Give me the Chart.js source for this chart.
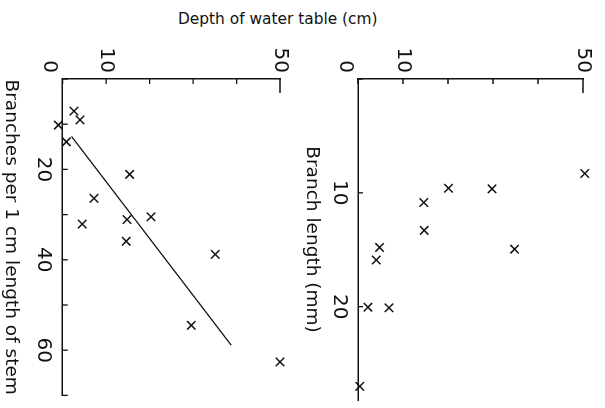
<!DOCTYPE html>
<html>
<head>
<meta charset="utf-8">
<script src="https://cdn.jsdelivr.net/npm/chart.js@4.4.0/dist/chart.umd.min.js"></script>
<style>
  html, body { margin: 0; padding: 0; background: #fff; overflow: hidden; }
  body { width: 605px; height: 408px; position: relative; font-family: "DejaVu Sans", sans-serif; }
  #depthTitle { position: absolute; left: 178px; top: 12px; font-size: 15.4px; line-height: 1; color: #111; white-space: nowrap; }
  /* figure is laid out upright, then turned a quarter turn */
  #fig { position: absolute; left: 605px; top: 0; width: 408px; height: 605px; transform-origin: 0 0; transform: rotate(90deg); }
  #fig canvas { position: absolute; left: 0; }
  #lengthChart { top: 0; }
  #branchChart { top: 306px; }
</style>
</head>
<body>
<div id="depthTitle">Depth of water table (cm)</div>
<div id="fig">
  <canvas id="lengthChart" width="408" height="306"></canvas>
  <canvas id="branchChart" width="408" height="299"></canvas>
</div>
<script>
// branch length (mm) vs depth of water table (cm)
const lengthDepth = [50.4, 20.1, 29.8, 14.6, 14.7, 4.8, 34.8, 4.05, 2.2, 6.9, -1.7, 0.4];
const branchLength = [8.3, 9.6, 9.65, 10.85, 13.3, 14.8, 14.95, 15.9, 20.05, 20.1, 21.0, 27.0];

// branches per 1 cm of stem vs depth of water table (cm)
const branchDepth = [2.6, 4.0, -1.0, 0.85, 15.4, 7.2, 4.5, 14.8, 20.3, 14.6, 35.1, 29.6, 50.0];
const branchesPerCm = [7.1, 9.05, 10.2, 13.9, 21.1, 26.4, 32.1, 31.1, 30.5, 35.9, 38.8, 54.5, 62.6];

// fitted regression line
const fitBranches = [12.7, 58.9];
const fitDepth = [2.0, 38.8];

// tick marks and which of them carry a label
const depthTicks = [0, 10, 20, 30, 40, 50];
const depthLabels = [0, 10, 50];
const lengthTicks = [0, 10, 20];
const lengthLabels = [10, 20];
const branchTicks = [0, 10, 20, 30, 40, 50, 60, 70];
const branchLabels = [20, 40, 60];

const ink = '#111';
const tickFont = { family: 'DejaVu Sans', size: 20, lineHeight: 1.3 };
const titleFont = { family: 'DejaVu Sans', size: 18.5 };

// short tick marks pointing into the plot
const innerTicks = {
    id: 'innerTicks',
    afterDraw(chart) {
        const { ctx, chartArea: a, scales: { x, y } } = chart;
        ctx.save();
        ctx.strokeStyle = ink;
        ctx.lineWidth = 1.3;
        ctx.beginPath();
        x.ticks.forEach(t => {
            const px = x.getPixelForValue(t.value);
            ctx.moveTo(px, a.bottom);
            ctx.lineTo(px, a.bottom - 5);
        });
        y.ticks.forEach(t => {
            const py = y.getPixelForValue(t.value);
            const len = t.value === 50 ? 14 : 5;
            ctx.moveTo(a.left, py);
            ctx.lineTo(a.left + len, py);
        });
        ctx.stroke();
        ctx.restore();
    }
};

function toPoints(xs, ys) {
    return xs.map((v, i) => ({ x: v, y: ys[i] }));
}

function pointSet(xs, ys) {
    return {
        data: toPoints(xs, ys),
        pointStyle: 'crossRot',
        pointRadius: 6,
        pointBorderWidth: 1.5,
        borderColor: ink,
        backgroundColor: ink,
        showLine: false,
        clip: false
    };
}

function depthAxis() {
    return {
        min: 0,
        max: 50,
        afterBuildTicks: s => { s.ticks = depthTicks.map(v => ({ value: v })); },
        afterFit: s => { s.width = 79; },
        grid: { display: false, drawTicks: false },
        border: { display: true, color: ink, width: 1.5 },
        ticks: {
            color: ink,
            font: tickFont,
            padding: 6,
            autoSkip: false,
            callback: v => v === 0 ? ['', '0'] : (depthLabels.includes(v) ? String(v) : '')
        }
    };
}

function sideAxis(max, tickList, labelList, height, title, titlePad) {
    return {
        type: 'linear',
        min: 0,
        max: max,
        afterBuildTicks: s => { s.ticks = tickList.map(v => ({ value: v })); },
        afterFit: s => { s.height = height; },
        grid: { display: false, drawTicks: false },
        border: { display: true, color: ink, width: 1.5 },
        ticks: {
            color: ink,
            font: tickFont,
            padding: 6,
            autoSkip: false,
            maxRotation: 0,
            callback: v => labelList.includes(v) ? String(v) : ''
        },
        title: {
            display: true,
            text: title,
            color: ink,
            font: titleFont,
            padding: { top: 0, bottom: titlePad }
        }
    };
}

// Branch length panel
new Chart(document.getElementById('lengthChart'), {
    type: 'scatter',
    data: {
        datasets: [pointSet(branchLength, lengthDepth)]
    },
    options: {
        responsive: false,
        animation: false,
        layout: { padding: { top: 22, right: 8, left: 0, bottom: 0 } },
        plugins: { legend: { display: false }, tooltip: { enabled: false } },
        scales: {
            x: sideAxis(28.2, lengthTicks, lengthLabels, 59, 'Branch length (mm)', 1.6),
            y: depthAxis()
        }
    },
    plugins: [innerTicks]
});

// Branches per cm panel, with fitted line
new Chart(document.getElementById('branchChart'), {
    type: 'scatter',
    data: {
        datasets: [
            pointSet(branchesPerCm, branchDepth),
            {
                data: toPoints(fitBranches, fitDepth),
                showLine: true,
                borderColor: ink,
                borderWidth: 1.3,
                pointRadius: 0,
                clip: false
            }
        ]
    },
    options: {
        responsive: false,
        animation: false,
        layout: { padding: { top: 12.3, right: 12.6, left: 0, bottom: 0 } },
        plugins: { legend: { display: false }, tooltip: { enabled: false } },
        scales: {
            x: sideAxis(70, branchTicks, branchLabels, 62.7, 'Branches per 1 cm length of stem', 0),
            y: depthAxis()
        }
    },
    plugins: [innerTicks]
});
</script>
</body>
</html>
